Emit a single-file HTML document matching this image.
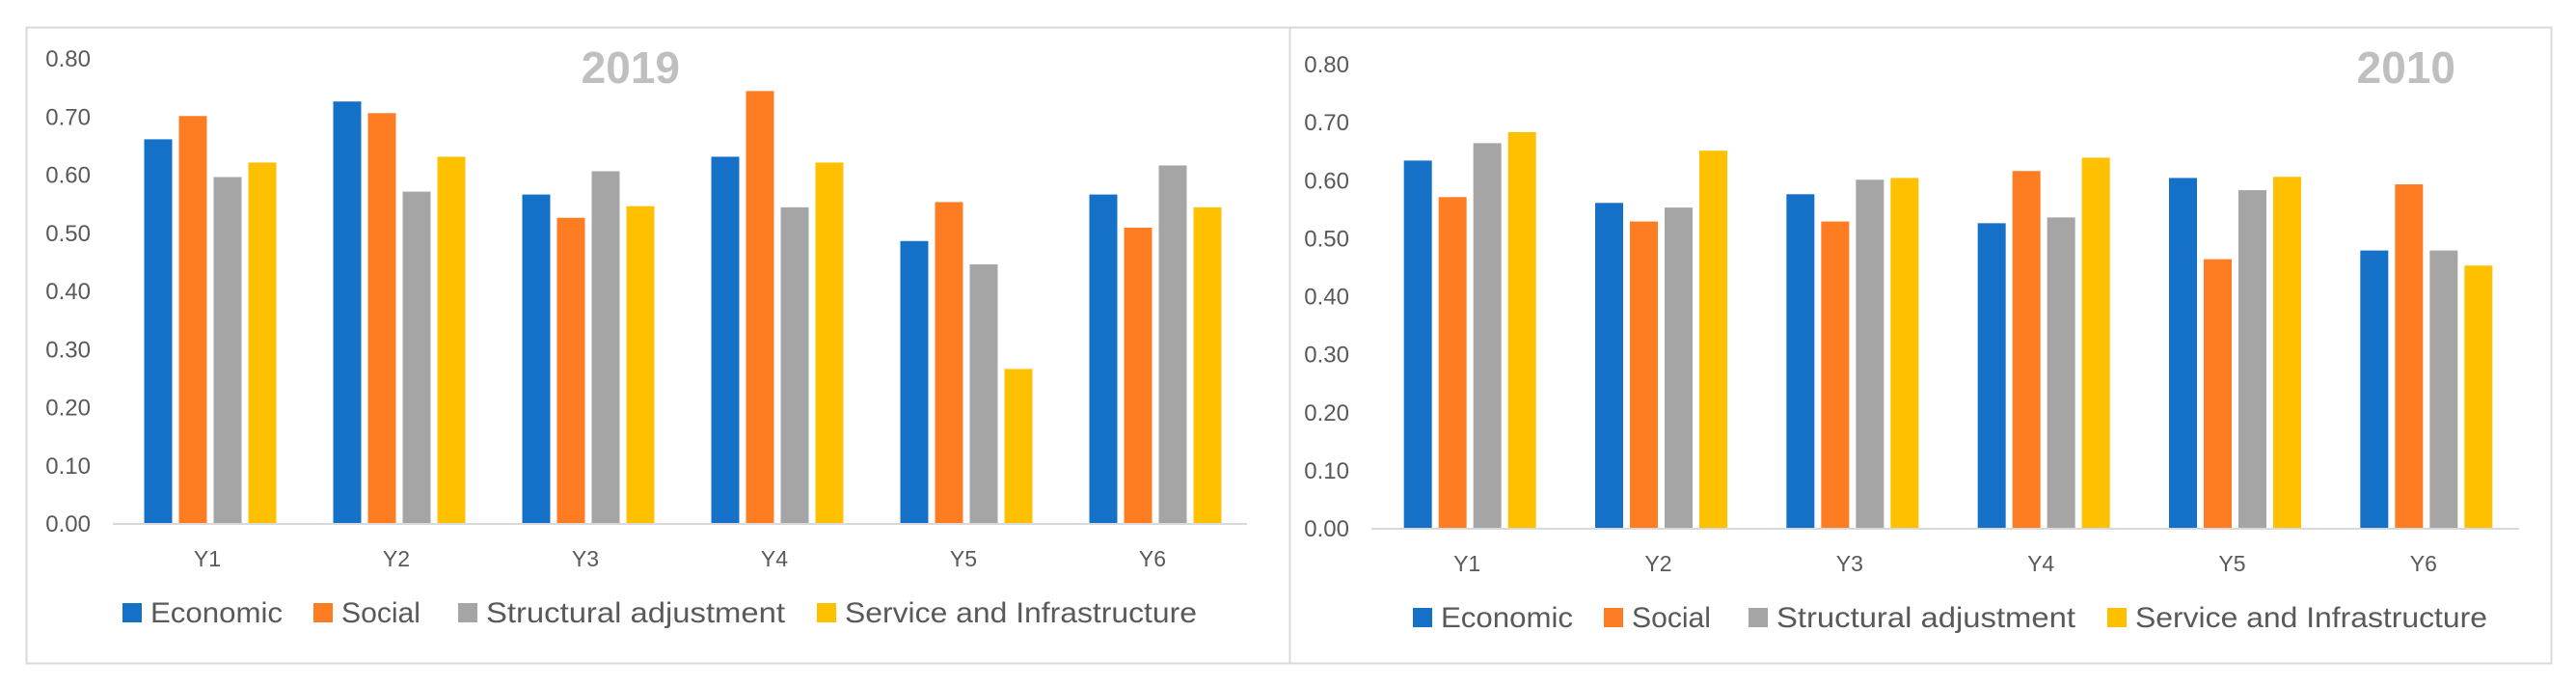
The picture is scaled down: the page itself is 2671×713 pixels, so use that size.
<!DOCTYPE html>
<html><head><meta charset="utf-8"><style>
html,body{margin:0;padding:0;background:#fff;}
svg{display:block;font-family:"Liberation Sans",sans-serif;}
</style></head><body>
<svg id="chart" width="2671" height="713" xmlns="http://www.w3.org/2000/svg"></svg>
<script>
const categories = ["Y1","Y2","Y3","Y4","Y5","Y6"];
const seriesNames = ["Economic","Social","Structural adjustment","Service and Infrastructure"];
const colors = ["#1570C8","#FE7D23","#A5A5A5","#FFC000"];
const yTicks = [0,0.1,0.2,0.3,0.4,0.5,0.6,0.7,0.8];
const tickLabels = ["0.00","0.10","0.20","0.30","0.40","0.50","0.60","0.70","0.80"];
// 2019
const econ2019 = [0.660,0.725,0.565,0.630,0.485,0.565];
const social2019 = [0.700,0.705,0.525,0.743,0.552,0.508];
const struct2019 = [0.595,0.570,0.605,0.543,0.445,0.615];
const service2019 = [0.620,0.630,0.545,0.620,0.265,0.543];
// 2010
const econ2010 = [0.633,0.560,0.575,0.525,0.603,0.478];
const social2010 = [0.570,0.528,0.528,0.615,0.463,0.592];
const struct2010 = [0.663,0.552,0.600,0.535,0.582,0.478];
const service2010 = [0.682,0.650,0.603,0.638,0.605,0.452];

const NS = "http://www.w3.org/2000/svg";
const svg = document.getElementById("chart");
function mk(tag, attrs, parent){
  const e = document.createElementNS(NS, tag);
  for (const k in attrs) e.setAttribute(k, attrs[k]);
  (parent||svg).appendChild(e);
  return e;
}
const legendTextW = [137, 82, 310, 365];

const panels = [
  {name:"2019", series:[econ2019,social2019,struct2019,service2019], box:[27,28,1337,687],
   labelX:94, plotX0:117, plotX1:1293, y0:542, y80:60, titleX:705, legendX:[127,325,475,847]},
  {name:"2010", series:[econ2010,social2010,struct2010,service2010], box:[1337,28,2645,687],
   labelX:1399, plotX0:1422, plotX1:2612, y0:547, y80:66, titleX:2546, legendX:[1465,1663,1813,2185]}
];

panels.forEach(p => {
  const g = mk("g", {});
  
  
  const b = p.box;
  const frame = mk("rect", {x:b[0]+0.5, y:b[1]+0.5, width:b[2]-b[0], height:b[3]-b[1], fill:"none", stroke:"#D9D9D9", "stroke-width":2}, g);
  
  
  const yScale = v => p.y0 - (v/0.8)*(p.y0 - p.y80);
  const catW = (p.plotX1 - p.plotX0)/categories.length;
  const xCenter = i => p.plotX0 + catW*(i+0.5);
  yTicks.forEach((t,i) => {
    const tx = mk("text", {x:p.labelX, y:yScale(t)+9, "text-anchor":"end", "font-size":24, fill:"#595959"}, g);
    tx.textContent = tickLabels[i];
    
    
  });
  const barW = 29, step = 36;
  p.series.forEach((vals, s) => {
    vals.forEach((v, i) => {
      const x = xCenter(i) - 2*step + (step-barW)/2 + s*step + 3;
      const r = mk("rect", {x:x, y:yScale(v), width:barW, height:p.y0 - yScale(v), fill:colors[s]}, g);
      
      
    });
  });
  const ax = mk("line", {x1:p.plotX0, x2:p.plotX1, y1:p.y0+1, y2:p.y0+1, stroke:"#D9D9D9", "stroke-width":2}, g);
  
  
  categories.forEach((c,i) => {
    const t = mk("text", {x:xCenter(i), y:p.y0+45, "text-anchor":"middle", "font-size":23, fill:"#595959"}, g);
    t.textContent = c;
    
    
  });
  const tt = mk("text", {x:p.titleX, y:86, "text-anchor":"end", "font-size":46, "font-weight":"bold", fill:"#BFBFBF"}, g);
  tt.textContent = p.name;
  
  
  seriesNames.forEach((n, s) => {
    const lx = p.legendX[s];
    const sq = mk("rect", {x:lx, y:p.y0+83, width:20, height:20, fill:colors[s]}, g);
    
    
    const lt = mk("text", {x:lx+29, y:p.y0+103, "font-size":30, fill:"#595959", textLength:legendTextW[s], lengthAdjust:"spacingAndGlyphs"}, g);
    lt.textContent = n;
    
    
  });
});
</script>
</body></html>
